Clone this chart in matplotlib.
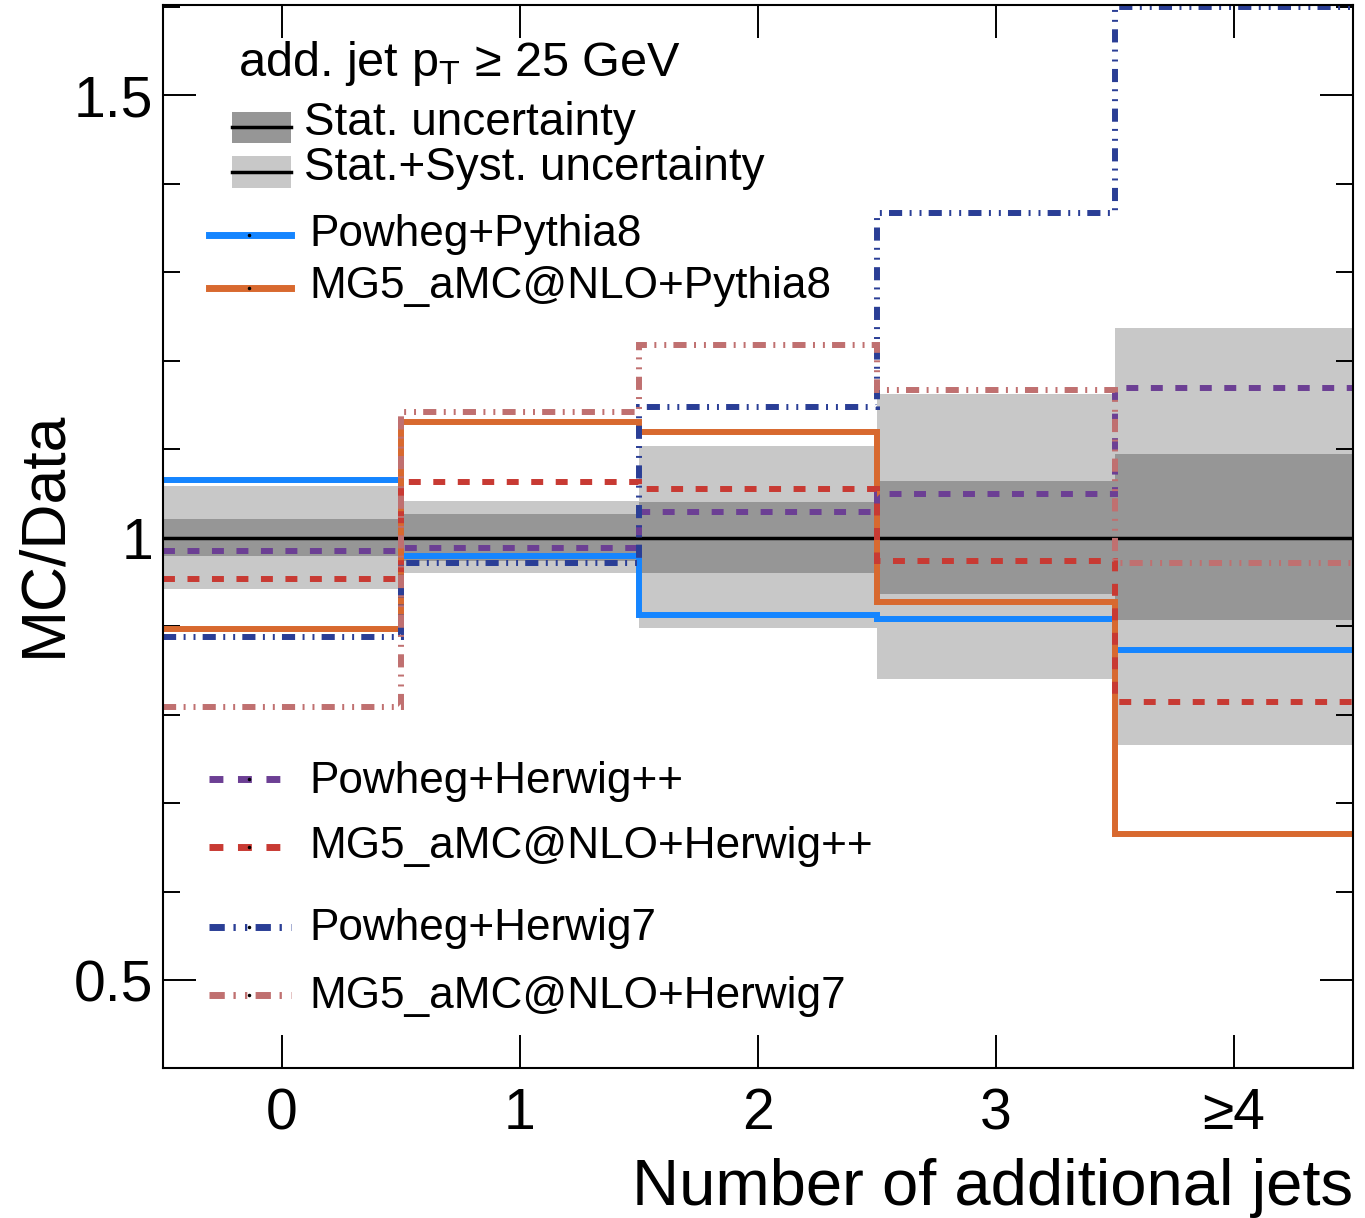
import matplotlib
matplotlib.use("Agg")
import matplotlib.pyplot as plt
import numpy as np
from matplotlib.lines import Line2D
from matplotlib.patches import Rectangle

plt.rcParams['font.family'] = ['Liberation Sans', 'DejaVu Sans']
plt.rcParams['mathtext.fontset'] = 'custom'
plt.rcParams['mathtext.rm'] = 'Liberation Sans'

# ---------------- data ----------------
categories = ["0", "1", "2", "3", "≥4"]
edges = np.array([-0.5, 0.5, 1.5, 2.5, 3.5, 4.5])

stat_up = [1.021, 1.027, 1.041, 1.064, 1.095]
stat_dn = [0.980, 0.974, 0.960, 0.937, 0.907]
tot_up = [1.059, 1.042, 1.104, 1.162, 1.237]
tot_dn = [0.942, 0.960, 0.898, 0.841, 0.766]

powheg_pythia8 = [1.065, 0.979, 0.913, 0.908, 0.873]
mg5_pythia8 = [0.897, 1.131, 1.120, 0.927, 0.665]
powheg_herwigpp = [0.985, 0.988, 1.029, 1.049, 1.169]
mg5_herwigpp = [0.953, 1.063, 1.055, 0.974, 0.815]
powheg_herwig7 = [0.888, 0.972, 1.148, 1.367, 1.600]
mg5_herwig7 = [0.809, 1.142, 1.218, 1.167, 0.971]

series_labels = ["Powheg+Pythia8", "MG5_aMC@NLO+Pythia8", "Powheg+Herwig++",
                 "MG5_aMC@NLO+Herwig++", "Powheg+Herwig7", "MG5_aMC@NLO+Herwig7"]

# ---------------- style ----------------
W, H = 1365, 1218
fig = plt.figure(figsize=(W / 100, H / 100), dpi=100)

def fx(px):
    return px / W

def fy(py):
    return 1 - py / H

ax = fig.add_axes([fx(163), fy(1068), (1353 - 163) / W, (1068 - 5) / H])

LW = 4.3
dashed = (0, (2.0, 2.1))
dashdotdot = (0, (2.2, 1.25, 0.33, 1.33, 0.33, 1.2))
styles = [
    dict(color="#1585ff", ls="-"),
    dict(color="#d8692f", ls="-"),
    dict(color="#6c3f94", ls=dashed),
    dict(color="#c83a33", ls=dashed),
    dict(color="#2a3e96", ls=dashdotdot),
    dict(color="#c07070", ls=dashdotdot),
]
series = [powheg_pythia8, mg5_pythia8, powheg_herwigpp, mg5_herwigpp,
          powheg_herwig7, mg5_herwig7]

light = "#c8c8c8"
dark = "#969696"

ax.stairs(tot_up, edges, baseline=tot_dn, fill=True, color=light, lw=0, zorder=1)
ax.stairs(stat_up, edges, baseline=stat_dn, fill=True, color=dark, lw=0, zorder=2)
ax.axhline(1.0, color="black", lw=2.5, zorder=3)

for vals, st in zip(series, styles):
    ax.stairs(vals, edges, baseline=None, color=st["color"], linestyle=st["ls"],
              lw=LW, zorder=4, clip_on=False)

ax.set_xlim(-0.5, 4.5)
ax.set_ylim(0.401, 1.602)
ax.set_xticks(range(5))
ax.set_xticklabels(categories)
ax.set_yticks([0.5, 1.0, 1.5])
ax.set_yticklabels(["0.5", "1", "1.5"])
ax.set_yticks(np.arange(0.5, 1.61, 0.1), minor=True)
ax.tick_params(axis="both", which="major", direction="in", length=24, width=1.4,
               labelsize=41, top=True, right=True)
ax.tick_params(axis="y", which="minor", direction="in", length=12, width=1.4,
               left=True, right=True)
ax.tick_params(axis="y", which="major", pad=7)
ax.tick_params(axis="x", which="major", pad=14)
for s in ax.spines.values():
    s.set_linewidth(1.5)
    s.set_zorder(5)

fig.text(fx(1353), fy(1205), "Number of additional jets", fontsize=47,
         ha="right", va="baseline")
fig.text(fx(44), fy(534), "MC/Data", fontsize=45, rotation=90,
         ha="center", va="center")

# ---------------- legend ----------------
fig.text(fx(238), fy(76), r"add. jet p$_\mathregular{T}$ ≥ 25 GeV", fontsize=35,
         ha="left", va="baseline")

for (y0, y1, yl, col, lab, base) in [
        (112, 143, 127, dark, "Stat. uncertainty", 135),
        (156, 188, 172, light, "Stat.+Syst. uncertainty", 180)]:
    fig.add_artist(Rectangle((fx(232), fy(y1)), (291 - 232) / W, (y1 - y0) / H,
                             transform=fig.transFigure, color=col, lw=0))
    fig.add_artist(Line2D([fx(232), fx(291)], [fy(yl), fy(yl)],
                          transform=fig.transFigure, color="black", lw=2.5))
    fig.text(fx(304), fy(base), lab, fontsize=33, ha="left", va="baseline")

leg_y = [235, 288, 779, 847, 927, 995]
leg_base = [246, 298, 793, 858, 940, 1008]
for st, lab, yl, yb in zip(styles, series_labels, leg_y, leg_base):
    fig.add_artist(Line2D([fx(209), fx(291)], [fy(yl), fy(yl)],
                          transform=fig.transFigure, color=st["color"],
                          linestyle=st["ls"], lw=5.0))
    fig.add_artist(Line2D([fx(249)], [fy(yl)], transform=fig.transFigure,
                          marker="o", markersize=1.5, color="black", lw=0))
    fig.text(fx(309), fy(yb), lab, fontsize=31.8, ha="left", va="baseline")

fig.savefig("out.png", dpi=100)
